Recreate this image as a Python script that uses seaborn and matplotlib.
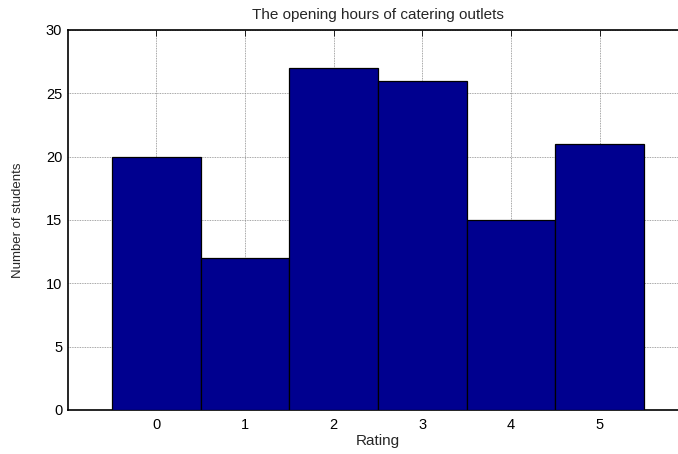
import matplotlib
matplotlib.use("Agg")
import matplotlib.pyplot as plt
import seaborn as sns
import pandas as pd

# Data
ratings = [0, 1, 2, 3, 4, 5]
students = [20, 12, 27, 26, 15, 21]

df = pd.DataFrame({"Rating": ratings, "Students": students})

sns.set_style("white")
plt.rcParams["font.family"] = ["Liberation Sans", "DejaVu Sans"]

fig = plt.figure(figsize=(6.78, 4.54), dpi=100)
ax = fig.add_axes([0.1, 0.097, 0.9153, 0.837])

sns.barplot(data=df, x="Rating", y="Students", color="#00008F", width=1.0,
            edgecolor="black", linewidth=0.9, saturation=1, ax=ax, zorder=3)

ax.set_xlim(-1, 6)
ax.set_ylim(0, 30)
ax.set_yticks(range(0, 31, 5))
ax.set_xticks(range(len(ratings)))
ax.set_xticklabels([str(r) for r in ratings])

ax.grid(True, color="#888888", linestyle=(0, (1, 1)), linewidth=0.6, zorder=0)
ax.set_axisbelow(True)

for s in ax.spines.values():
    s.set_color("black")
    s.set_linewidth(1.2)

ax.tick_params(direction="in", length=4, width=0.6, labelsize=10.5, colors="black",
               top=True, right=True)
ax.tick_params(axis="y", pad=4)
ax.tick_params(axis="x", pad=6)

ax.set_title("The opening hours of catering outlets", fontsize=11, pad=8)
ax.set_xlabel("Rating", fontsize=11, labelpad=1)
ax.set_ylabel("Number of students", fontsize=9.5, labelpad=16)

fig.savefig("out.png", dpi=100)
